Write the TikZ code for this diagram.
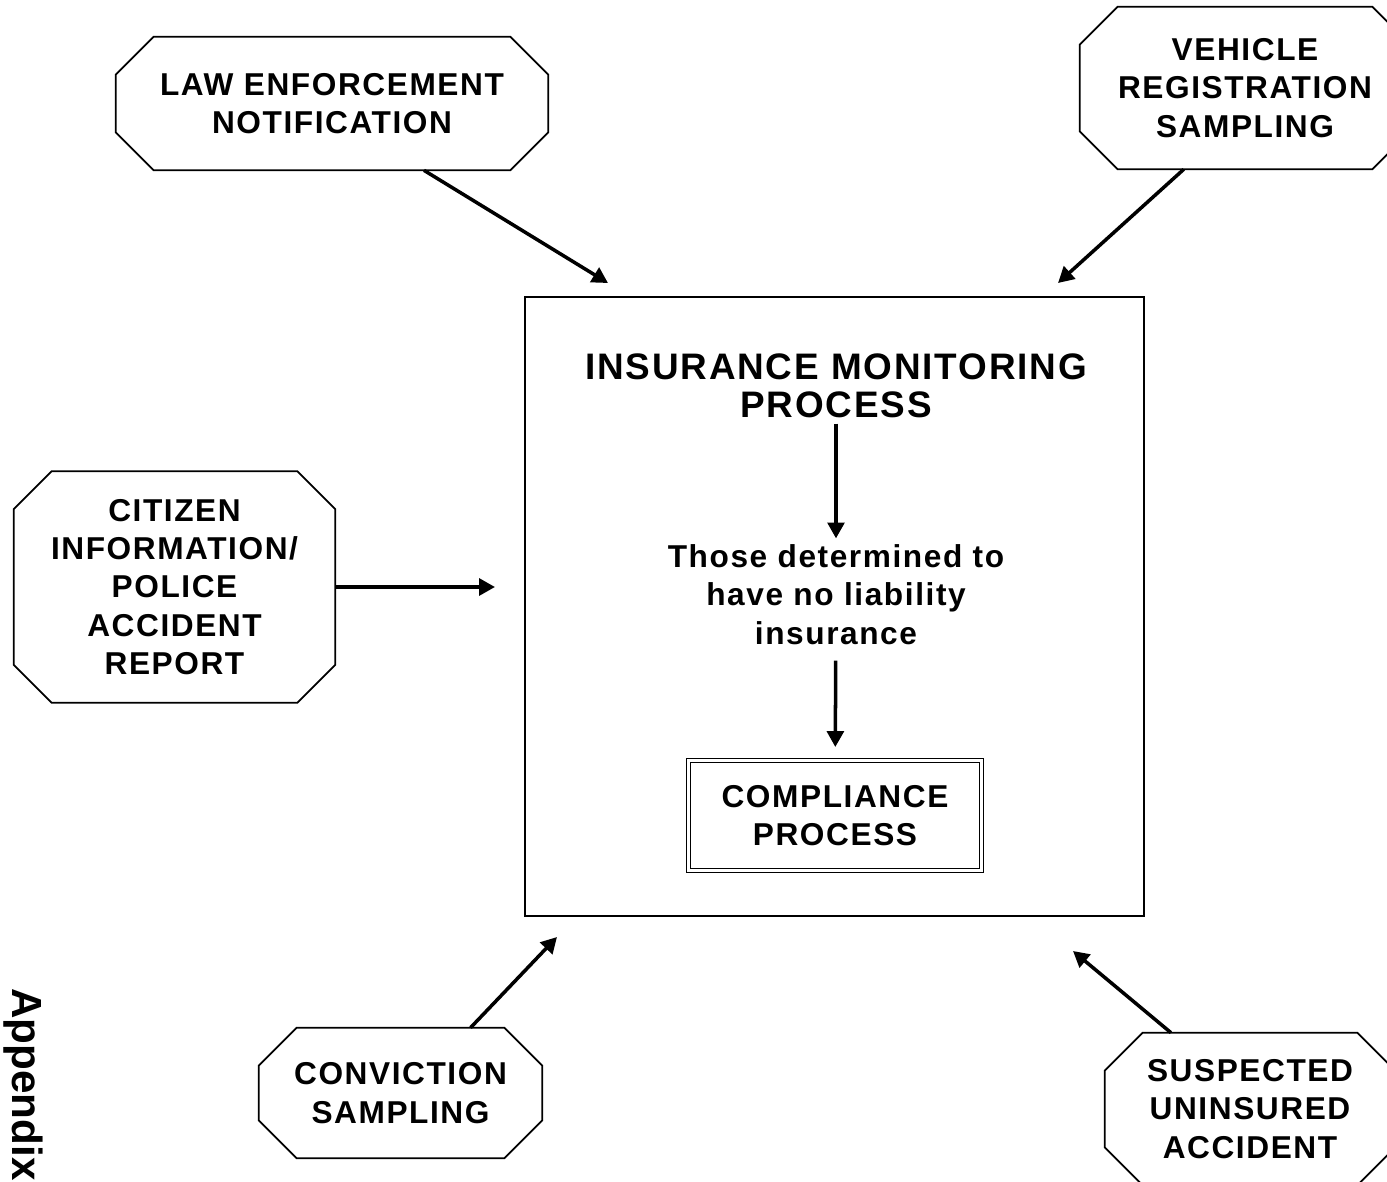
\documentclass[tikz,border=0pt]{standalone}
\usepackage{fontspec}
\setmainfont{Liberation Sans}[LetterSpace=5]
\newfontfamily\sidefont{Liberation Sans}
\usetikzlibrary{arrows.meta}

\begin{document}
\begin{tikzpicture}[x=0.02cm,y=-0.02cm,
    source/.style={align=center,inner sep=0pt,font=\bfseries\fontsize{18}{21.8}\selectfont},
    feed/.style={line width=2pt,-{Triangle[length=9pt,width=9.5pt]}}]
\clip (0,0) rectangle (1387,1181);

% sources around the process
\node[source,minimum width=8.64cm,minimum height=2.66cm] (law) at (332,103.5)
    {LAW ENFORCEMENT\\NOTIFICATION};
\node[source,minimum width=6.6cm,minimum height=3.24cm] (vehicle) at (1245,88)
    {VEHICLE\\REGISTRATION\\SAMPLING};
\node[source,minimum width=6.42cm,minimum height=4.62cm] (citizen) at (174.5,587)
    {CITIZEN\\INFORMATION/\\POLICE\\ACCIDENT\\REPORT};
\node[source,minimum width=5.66cm,minimum height=2.6cm] (conviction) at (400.5,1093)
    {CONVICTION\\SAMPLING};
\node[source,minimum width=5.8cm,minimum height=3.04cm] (suspected) at (1250,1109)
    {SUSPECTED\\UNINSURED\\ACCIDENT};

% cut corners
\foreach \n in {law,vehicle,citizen,conviction,suspected}
    \draw[line width=1pt] ([xshift=0.76cm]\n.north west) -- ([xshift=-0.76cm]\n.north east)
        -- ([yshift=-0.76cm]\n.north east) -- ([yshift=0.76cm]\n.south east)
        -- ([xshift=-0.76cm]\n.south east) -- ([xshift=0.76cm]\n.south west)
        -- ([yshift=0.76cm]\n.south west) -- ([yshift=-0.76cm]\n.north west) -- cycle;

% the monitoring box
\node[draw,line width=1pt,minimum width=12.38cm,minimum height=12.38cm] (monitor) at (834.5,606.5) {};
\node[align=center,font=\bfseries\fontsize{21}{21.5}\selectfont] (title) at (836,385.5)
    {INSURANCE MONITORING\\PROCESS};
\node[align=center,font=\bfseries\fontsize{18}{21.8}\selectfont] (uninsured) at (836,594.5)
    {Those determined to\\have no liability\\insurance};
\node[draw,double,double distance=1.6pt,line width=0.6pt,minimum width=5.86cm,minimum height=2.2cm,
    align=center,font=\bfseries\fontsize{18}{21.8}\selectfont] (compliance) at (835,815.5)
    {COMPLIANCE\\PROCESS};

\draw[feed] (title) -- (uninsured);
\draw[feed,shorten <=0.2cm,shorten >=0.26cm] (uninsured) -- (compliance);

% loose arrow ends
\coordinate (lawtip) at (608,283);
\coordinate (vehicletip) at (1058,283);
\coordinate (citizentip) at (495,587);
\coordinate (convictiontip) at (557,937);
\coordinate (suspectedtip) at (1073,951);

\draw[feed] (law.-36) -- (lawtip);
\draw[feed] (vehicle.-127) -- (vehicletip);
\draw[feed] (citizen) -- (citizentip);
\draw[feed] (conviction.43) -- (convictiontip);
\draw[feed] (suspected.136) -- (suspectedtip);

\node[rotate=-90,anchor=base west,inner sep=0pt,font=\sidefont\bfseries\fontsize{24}{24}\selectfont]
    (appendix) at (12,988) {Appendix};
\end{tikzpicture}
\end{document}
